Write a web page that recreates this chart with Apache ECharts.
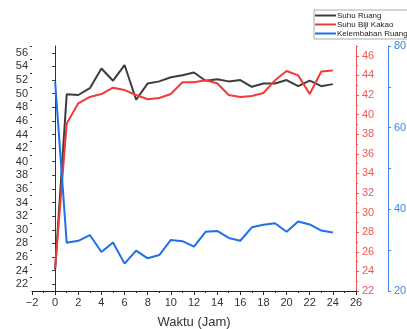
<!DOCTYPE html>
<html><head><meta charset="utf-8">
<script src="https://cdn.jsdelivr.net/npm/echarts@6/dist/echarts.min.js"></script>
<style>html,body{margin:0;padding:0;background:#fff}#c{width:407px;height:329px}</style>
</head><body><div id="c"></div>
<script>
var hours = [0,1,2,3,4,5,6,7,8,9,10,11,12,13,14,15,16,17,18,19,20,21,22,23,24];
var suhuRuang = [24.2,49.9,49.8,50.8,53.7,51.9,54.2,49.1,51.5,51.8,52.4,52.7,53.1,51.9,52.1,51.8,52.0,51.0,51.5,51.5,52.0,51.1,51.9,51.1,51.4];
var suhuBiji = [24.35,39.1,41.15,41.8,42.1,42.75,42.5,42.0,41.56,41.7,42.1,43.3,43.3,43.5,43.2,42.0,41.8,41.9,42.2,43.5,44.45,44.0,42.1,44.4,44.5];
var kelembaban = [71.2,31.8,32.3,33.7,29.55,31.9,26.7,29.9,28.0,28.8,32.5,32.2,30.85,34.5,34.7,33.0,32.3,35.6,36.2,36.6,34.5,37.0,36.3,34.8,34.3];
var leftTicks = [22,24,26,28,30,32,34,36,38,40,42,44,46,48,50,52,54,56];
var leftMinor = [23,25,27,29,31,33,35,37,39,41,43,45,47,49,51,53,55,57];
var redTicks = [22,24,26,28,30,32,34,36,38,40,42,44,46];
var redMinor = [23,25,27,29,31,33,35,37,39,41,43,45,47];

function pair(a){return hours.map(function(h,i){return [h,a[i]];});}
var FONT = 'Liberation Sans, Arial, sans-serif';
var BLACK='#3c3c3c', RED='#f23a3a', BLUE='#1f6fe6';
var chart = echarts.init(document.getElementById('c'), null, {renderer:'canvas'});
chart.setOption({
  animation:false,
  textStyle:{fontFamily:FONT},
  grid:{left:32,right:51,top:46,bottom:38,containLabel:false,outerBoundsMode:'none'},
  legend:{
    orient:'vertical', left:314, top:10, itemWidth:21, itemHeight:2, itemGap:0, icon:'rect',
    borderColor:'#aaa', borderWidth:1, padding:[1,3,1,1],
    textStyle:{fontSize:8, lineHeight:9, color:'#222', fontFamily:FONT, padding:[0,0,0,-4]},
    data:['Suhu Ruang','Suhu Biji Kakao','Kelembaban Ruang']
  },
  xAxis:{
    type:'value', min:-2, max:26, interval:2,
    name:'Waktu (Jam)', nameLocation:'middle', nameGap:25,
    nameTextStyle:{fontSize:13, color:'#333', fontFamily:FONT},
    axisLine:{lineStyle:{color:'#222', width:1}},
    axisTick:{length:4, lineStyle:{color:'#222'}},
    minorTick:{show:true, splitNumber:2, length:2, lineStyle:{color:'#222'}},
    splitLine:{show:false},
    axisLabel:{fontSize:11, color:'#333', margin:6, formatter:function(v){return v<0?'\u2212'+Math.abs(v):String(v);}}
  },
  yAxis:[
    {type:'value', min:21, max:57, position:'left',
     axisLine:{show:true, lineStyle:{color:'#333'}},
     axisTick:{show:true, length:3, customValues:leftTicks, lineStyle:{color:'#333'}},
     axisLabel:{fontSize:11, color:'#333', margin:4, customValues:leftTicks},
     splitLine:{show:false}},
    {type:'value', min:22, max:47, position:'right', offset:0,
     axisLine:{show:true, lineStyle:{color:'#f25555'}},
     axisTick:{show:true, length:3, customValues:redTicks, lineStyle:{color:'#f25555'}},
     axisLabel:{fontSize:11, color:'#f25555', margin:6, customValues:redTicks},
     splitLine:{show:false}},
    {type:'value', min:20, max:80, interval:20, position:'right', offset:32,
     axisLine:{show:true, lineStyle:{color:'#3f87e6'}},
     axisTick:{show:true, length:3, lineStyle:{color:'#3f87e6'}},
     minorTick:{show:true, splitNumber:2, length:3, lineStyle:{color:'#3f87e6'}},
     axisLabel:{fontSize:11, color:'#3f87e6', margin:6},
     splitLine:{show:false}},
    {type:'value', min:21, max:57, position:'left',
     axisLine:{show:false},
     axisTick:{show:true, length:2, customValues:leftMinor, lineStyle:{color:'#333'}},
     axisLabel:{show:false}, splitLine:{show:false}},
    {type:'value', min:22, max:47, position:'right', offset:0,
     axisLine:{show:false},
     axisTick:{show:true, length:2, customValues:redMinor, lineStyle:{color:'#f25555'}},
     axisLabel:{show:false}, splitLine:{show:false}}
  ],
  series:[
    {name:'Suhu Ruang', type:'line', yAxisIndex:0, data:pair(suhuRuang), symbol:'none', lineStyle:{color:BLACK,width:2}, itemStyle:{color:BLACK}},
    {name:'Suhu Biji Kakao', type:'line', yAxisIndex:1, data:pair(suhuBiji), symbol:'none', lineStyle:{color:RED,width:2}, itemStyle:{color:RED}},
    {name:'Kelembaban Ruang', type:'line', yAxisIndex:2, data:pair(kelembaban), symbol:'none', lineStyle:{color:BLUE,width:2}, itemStyle:{color:BLUE}}
  ]
});
</script></body></html>
